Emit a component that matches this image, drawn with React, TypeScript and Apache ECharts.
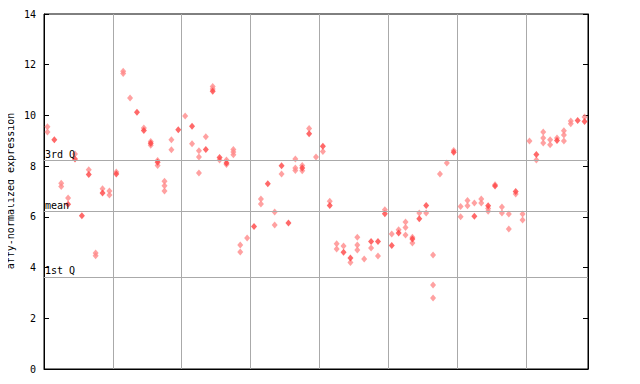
import { useEffect, useRef } from "react";
import * as echarts from "echarts";

const sampleCount = 79;
const yMin = 0;
const yMax = 14;
const yStep = 2;
const yTitle = "affy-normalized expression";

// main (filled) marker per sample, null when absent
const filledValues: (number | null)[] = [
  null, 9.04, null, 6.5, 8.28, 6.04, 7.67, null, 6.94, null,
  7.69, null, null, 10.13, 9.41, 8.9, 8.15, null, null, 9.44,
  null, 9.57, null, 8.66, 10.95, 8.34, 8.12, null, null, null,
  5.62, null, 7.31, null, 8.02, 5.76, null, 7.93, 9.28, null,
  8.78, 6.45, null, 4.6, 4.38, null, null, 5.03, 5.03, 6.12,
  4.87, 5.36, null, 5.13, 5.93, 6.45, null, null, null, 8.55,
  null, null, 6.02, null, 6.44, 7.22, null, null, 7.0, null,
  null, 8.46, null, null, 9.01, null, null, 9.8, 9.76,
];

// replicate (hatched) markers per sample
const replicateValues: number[][] = [
  [9.55, 9.35], [], [7.33, 7.2], [6.74], [8.48], [], [7.86], [4.57, 4.47], [7.11], [7.02, 6.86],
  [7.77], [11.74, 11.65], [10.69], [], [9.5], [8.97, 8.82], [8.22, 8.03], [7.4, 7.23, 7.02], [9.04, 8.65], [],
  [9.98], [8.88], [8.61, 8.36, 7.73], [9.16], [11.14, 11.04], [8.24], [8.24, 8.06], [8.66, 8.56, 8.45], [4.89, 4.61], [5.17],
  [], [6.7, 6.51], [], [6.19, 5.68], [7.69], [], [8.28, 7.93, 7.83], [8.03, 7.82], [9.48], [8.36],
  [8.58], [6.62], [4.94, 4.73], [4.85], [4.2], [5.2, 4.89, 4.69], [4.34], [4.77], [4.46], [6.28],
  [5.32], [5.49], [5.8, 5.58, 5.28], [5.2, 4.97], [6.15], [6.15], [4.5, 3.31, 2.8], [7.69], [8.12], [8.62],
  [6.41, 6.0], [6.65, 6.44], [6.55], [6.7, 6.55], [6.22, 6.33], [7.27], [6.39, 6.15], [6.11, 5.52], [6.9], [6.11, 5.88],
  [8.99], [8.24], [9.35, 9.11, 8.91], [9.04, 8.84], [9.11], [9.4, 9.23, 8.99], [9.78, 9.67], [], [9.94],
];

const refLabels = ["3rd Q", "mean", "1st Q"];
const refValues = [8.24, 6.23, 3.63];

const MONO = "'DejaVu Sans Mono', monospace";

export default function App() {
  const ref = useRef<HTMLDivElement>(null);
  useEffect(() => {
    if (!ref.current) return;
    const chart = echarts.init(ref.current, undefined, { renderer: "svg" });
    const filledData: number[][] = [];
    filledValues.forEach((v, i) => {
      if (v !== null) filledData.push([i + 0.5, v]);
    });
    const repData: number[][] = [];
    replicateValues.forEach((arr, i) => arr.forEach((v) => repData.push([i + 0.5, v])));

    chart.setOption({
      animation: false,
      graphic: [
        {
          type: "text",
          x: 10,
          y: 191,
          rotation: Math.PI / 2,
          style: {
            text: yTitle,
            fontFamily: MONO,
            fontSize: 10,
            fill: "#000",
            align: "center",
            verticalAlign: "middle",
          },
        },
      ],
      grid: {
        left: 44,
        top: 14,
        right: 52,
        bottom: 15,
        containLabel: false,
        outerBoundsMode: "none",
        show: true,
        borderColor: "#000",
        borderWidth: 1,
        backgroundColor: "#fff",
      },
      xAxis: {
        type: "value",
        min: 0,
        max: sampleCount,
        interval: 10,
        axisLine: { show: true, lineStyle: { color: "#000", width: 1 } },
        axisTick: { show: false },
        axisLabel: { show: false },
        splitLine: { show: true, lineStyle: { color: "#aaaaaa", width: 1 } },
      },
      yAxis: [
        {
          type: "value",
          min: yMin,
          max: yMax,
          interval: yStep,
          axisLine: { show: true, lineStyle: { color: "#000", width: 1 } },
          axisTick: { show: true, inside: true, length: 5, lineStyle: { color: "#000" } },
          axisLabel: { fontFamily: MONO, fontSize: 10, color: "#000", margin: 8 },
          splitLine: { show: false },
        },
        {
          type: "value",
          position: "right",
          min: yMin,
          max: yMax,
          interval: yStep,
          axisLine: { show: true, lineStyle: { color: "#000", width: 1 } },
          axisTick: { show: true, inside: true, length: 5, lineStyle: { color: "#000" } },
          axisLabel: { show: false },
          splitLine: { show: false },
        },
      ],
      series: [
        {
          type: "scatter",
          name: "lines",
          data: [],
          silent: true,
          markLine: {
            silent: true,
            symbol: "none",
            animation: false,
            lineStyle: { color: "#aaaaaa", width: 1, type: "solid" },
            label: {
              show: true,
              position: "insideStartTop",
              distance: [1, 1],
              fontFamily: MONO,
              fontSize: 10,
              color: "#000",
              formatter: (p: any) => p.name,
            },
            data: refValues.map((v, k) => ({ name: refLabels[k], yAxis: v })),
          },
        },
        {
          type: "scatter",
          name: "replicates",
          symbol: "diamond",
          symbolSize: [6, 7],
          itemStyle: { color: "#ff8a8a" },
          data: repData,
        },
        {
          type: "scatter",
          name: "values",
          symbol: "diamond",
          symbolSize: [6, 7],
          itemStyle: { color: "#ff4444" },
          data: filledData,
        },
      ],
    });
    return () => chart.dispose();
  }, []);
  return <div ref={ref} style={{ width: 640, height: 384, margin: -8 }} />;
}
